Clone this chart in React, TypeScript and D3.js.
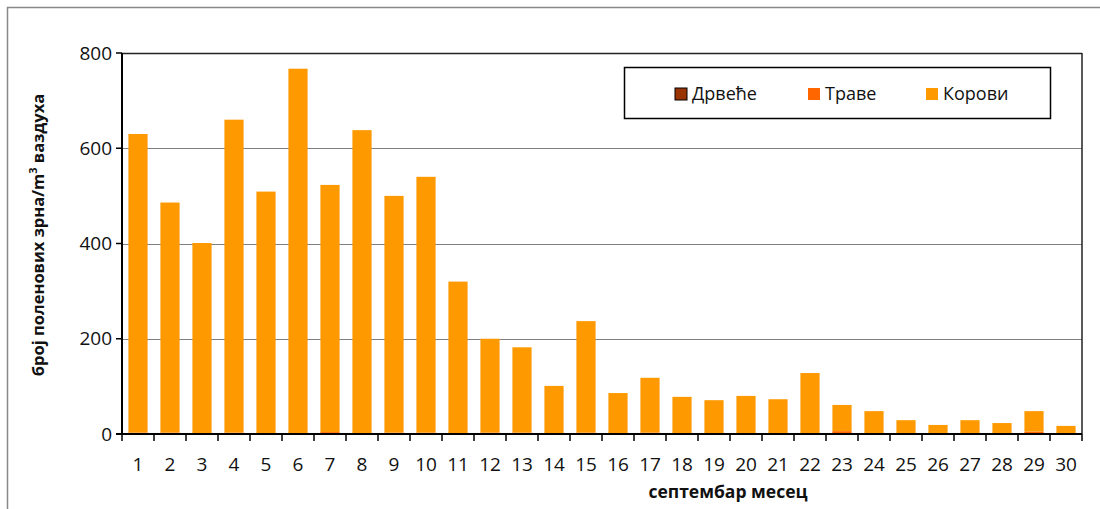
import React from "react";
import * as d3 from "d3";

const days = d3.range(1, 31).map(String);
const seriesNames = ["Дрвеће", "Траве", "Корови"];
const seriesColors = ["#993300", "#FF6600", "#FF9900"];
const drveceValues = [0,0,0,0,0,0,0,0,2,0,0,0,0,0,0,0,0,0,0,0,0,0,2,0,2,0,0,0,2,0];
const traveValues = [3,3,2,3,0,0,4,1,1,3,2,3,3,0,3,2,3,2,2,0,2,2,4,1,0,0,1,0,3,0];
const koroviValues = [627,483,399,657,509,767,519,637,497,537,318,197,179,101,234,84,115,76,69,80,71,126,55,47,27,19,28,23,43,17];
const yTicks = [0, 200, 400, 600, 800];

const W = 1100, H = 509;
const M = { left: 122, right: 1082, top: 53, bottom: 434 };
const FONT = "'Open Sans', 'DejaVu Sans', sans-serif";

export default function App() {
  const x = d3.scaleBand<string>().domain(days).range([M.left, M.right]).paddingInner(0.4).paddingOuter(0.2);
  const xEdge = d3.scaleLinear().domain([0, days.length]).range([M.left, M.right]);
  const y = d3.scaleLinear().domain([0, 800]).range([M.bottom, M.top]);

  const rows = days.map((d, i) => ({ day: d, s0: drveceValues[i], s1: traveValues[i], s2: koroviValues[i] }));
  const stack = d3.stack<any>().keys(["s0", "s1", "s2"])(rows);

  const legendX = [675, 808, 926];

  return (
    <svg width={W} height={H} style={{ position: "absolute", left: 0, top: 0, background: "#fff" }}>
      <rect x={7.5} y={7.5} width={W + 10} height={H + 10} fill="#fff" stroke="#888" strokeWidth={1.5} />
      {/* gridlines */}
      {yTicks.filter(t => t > 0 && t < 800).map(t => (
        <line key={t} x1={M.left} x2={M.right} y1={Math.round(y(t)) + 0.5} y2={Math.round(y(t)) + 0.5} stroke="#808080" strokeWidth={1} />
      ))}
      {/* plot border top/right */}
      <line x1={M.left} x2={M.right} y1={M.top + 0.5} y2={M.top + 0.5} stroke="#222" strokeWidth={1.5} />
      <line x1={M.right} x2={M.right} y1={M.top} y2={M.bottom} stroke="#222" strokeWidth={1.5} />
      {/* bars */}
      {stack.map((layer, si) => (
        <g key={si} fill={seriesColors[si]}>
          {layer.map((d: any, i: number) => {
            const h = y(d[0]) - y(d[1]);
            if (h <= 0) return null;
            return <rect key={i} x={x(days[i])} width={x.bandwidth()} y={y(d[1])} height={h} />;
          })}
        </g>
      ))}
      {/* y axis */}
      <line x1={M.left} x2={M.left} y1={M.top} y2={M.bottom} stroke="#000" strokeWidth={2} />
      {yTicks.map(t => (
        <g key={t}>
          <line x1={M.left - 6} x2={M.left} y1={y(t)} y2={y(t)} stroke="#000" strokeWidth={1.5} />
          <text x={M.left - 10} y={y(t)} dy="0.35em" textAnchor="end" fontFamily={FONT} fontSize={19} fill="#111">{t}</text>
        </g>
      ))}
      {/* x axis */}
      <line x1={M.left - 6} x2={M.right} y1={M.bottom} y2={M.bottom} stroke="#000" strokeWidth={2} />
      {d3.range(0, days.length + 1).map(i => (
        <line key={i} x1={xEdge(i)} x2={xEdge(i)} y1={M.bottom} y2={M.bottom + 7} stroke="#000" strokeWidth={1.5} />
      ))}
      {days.map(d => (
        <text key={d} x={x(d)! + x.bandwidth() / 2} y={471} textAnchor="middle" fontFamily={FONT} fontSize={19} fill="#111">{d}</text>
      ))}
      <text x={728} y={498} textAnchor="middle" fontFamily={FONT} fontSize={17.5} fontWeight="bold" fill="#111">септембар месец</text>
      <text transform={`translate(44,235) rotate(-90)`} textAnchor="middle" fontFamily={FONT} fontSize={16.5} fontWeight="bold" fill="#111">
        број поленових зрна/m<tspan dy={-7} fontSize={11}>3</tspan><tspan dy={7}> ваздуха</tspan>
      </text>
      {/* legend */}
      <rect x={624.5} y={67.5} width={426} height={51} fill="#fff" stroke="#000" strokeWidth={1.5} />
      {seriesNames.map((n, i) => (
        <g key={n}>
          <rect x={legendX[i]} y={88} width={12} height={12} fill={seriesColors[i]} stroke={i === 0 ? "#000" : "none"} strokeWidth={1} />
          <text x={legendX[i] + 17} y={94} dy="0.35em" fontFamily={FONT} fontSize={18} fill="#111">{n}</text>
        </g>
      ))}
    </svg>
  );
}
